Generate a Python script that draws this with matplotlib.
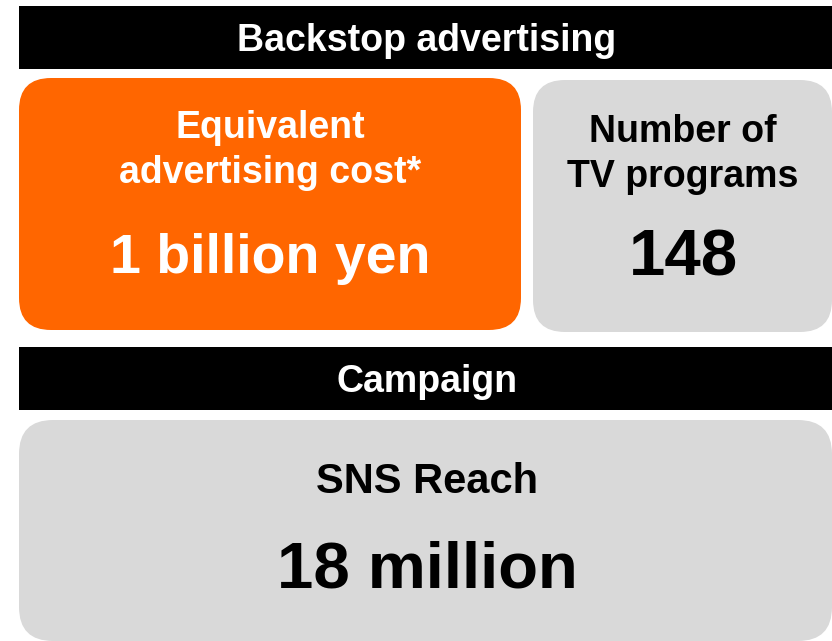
import matplotlib.pyplot as plt
from matplotlib.patches import FancyBboxPatch, Rectangle

plt.rcParams['font.family'] = ['Liberation Sans', 'DejaVu Sans']

# section headers
headers = ['Backstop advertising', 'Campaign']
# metric labels and values
labels = ['Equivalent\nadvertising cost*', 'Number of\nTV programs', 'SNS Reach']
values = ['1 billion yen', '148', '18 million']

ORANGE = '#FF6600'
GRAY = '#D9D9D9'

fig = plt.figure(figsize=(8.32, 6.41), dpi=100)
ax = fig.add_axes([0, 0, 1, 1])
ax.set_xlim(0, 832)
ax.set_ylim(641, 0)
ax.axis('off')

# black header bars
for (y0, y1), base, txt in zip([(6, 69), (347, 410)], [51, 392], headers):
    ax.add_patch(Rectangle((19, y0), 832 - 19 + 5, y1 - y0, color='black', lw=0))
    ax.text(427, base, txt, color='white', fontsize=27,
            fontweight='bold', ha='center', va='baseline')

def box(x0, y0, x1, y1, color, r=32):
    ax.add_patch(FancyBboxPatch((x0 + r, y0 + r), x1 - x0 - 2 * r, y1 - y0 - 2 * r,
                                boxstyle=f'round,pad={r}', fc=color, ec='none'))

box(19, 78, 521, 330, ORANGE)
box(533, 80, 832, 332, GRAY)
box(19, 420, 832, 641, GRAY, r=34)

def card(x, bases, label, value, color, lsize, vsize):
    for line, b in zip(label.split('\n'), bases[:-1]):
        ax.text(x, b, line, color=color, fontsize=lsize, fontweight='bold',
                ha='center', va='baseline')
    ax.text(x, bases[-1], value, color=color, fontsize=vsize, fontweight='bold',
            ha='center', va='baseline')

card(270, [138, 183, 273], labels[0], values[0], 'white', 27, 40)
card(683, [142, 187, 275], labels[1], values[1], 'black', 27, 47)
card(427, [493, 587], labels[2], values[2], 'black', 30, 47)

fig.savefig('out.png', dpi=100)
